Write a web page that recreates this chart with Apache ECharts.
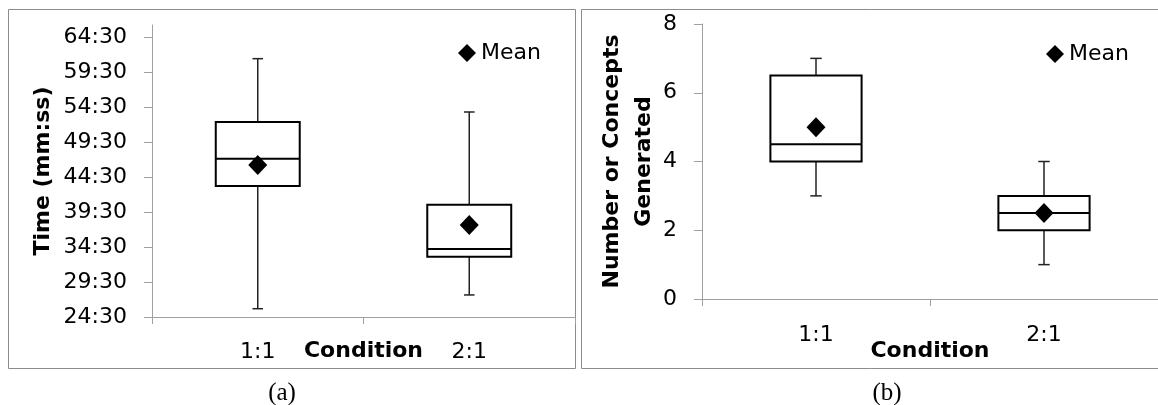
<!DOCTYPE html>
<html>
<head>
<meta charset="utf-8">
<script src="https://cdn.jsdelivr.net/npm/echarts@6/dist/echarts.min.js"></script>
<style>
html,body{margin:0;padding:0;background:#fff;}
#chart{width:1158px;height:405px;}
</style>
</head>
<body>
<div id="chart"></div>
<script>
// ---- data ----
const categories = ['1:1', '2:1'];
// (a) time, mm:ss
const timeMin    = ['25:41', '27:39'];
const timeQ1     = ['43:13', '33:07'];
const timeMedian = ['47:07', '34:13'];
const timeQ3     = ['52:21', '40:32'];
const timeMax    = ['61:24', '53:47'];
const timeMean   = ['46:13', '37:39'];
const timeTicks  = ['24:30', '29:30', '34:30', '39:30', '44:30', '49:30', '54:30', '59:30', '64:30'];
// (b) number of concepts
const conceptMin    = [3, 1];
const conceptQ1     = [4, 2];
const conceptMedian = [4.5, 2.5];
const conceptQ3     = [6.5, 3];
const conceptMax    = [7, 4];
const conceptMean   = [5, 2.5];
const conceptTicks  = [0, 2, 4, 6, 8];

// ---- helpers ----
function toMin(s) { const p = s.split(':'); return +p[0] + (+p[1]) / 60; }
function fmtMin(v) {
  let total = Math.round(v * 60);
  const m = Math.floor(total / 60), s = total % 60;
  return m + ':' + (s < 10 ? '0' : '') + s;
}
const FONT = 'DejaVu Sans';
const AX = '#a0a0a0';

function boxData(mins, q1s, meds, q3s, maxs, conv) {
  return categories.map((c, i) => [i, conv(mins[i]), conv(q1s[i]), conv(meds[i]), conv(q3s[i]), conv(maxs[i])]);
}
function boxRender(boxFrac, capFrac) {
  return function (params, api) {
    const i = api.value(0);
    const lo = api.coord([i, api.value(1)]);
    const q1 = api.coord([i, api.value(2)]);
    const md = api.coord([i, api.value(3)]);
    const q3 = api.coord([i, api.value(4)]);
    const hi = api.coord([i, api.value(5)]);
    const band = api.size([1, 0])[0];
    const bw = band * boxFrac, cw = band * capFrac;
    const cx = lo[0];
    const wStyle = { stroke: '#222', lineWidth: 1.5 };
    const bStyle = { stroke: '#000', lineWidth: 2, fill: 'none' };
    return {
      type: 'group',
      children: [
        { type: 'line', shape: { x1: cx, y1: hi[1], x2: cx, y2: q3[1] }, style: wStyle },
        { type: 'line', shape: { x1: cx, y1: q1[1], x2: cx, y2: lo[1] }, style: wStyle },
        { type: 'line', shape: { x1: cx - cw / 2, y1: hi[1], x2: cx + cw / 2, y2: hi[1] }, style: wStyle },
        { type: 'line', shape: { x1: cx - cw / 2, y1: lo[1], x2: cx + cw / 2, y2: lo[1] }, style: wStyle },
        { type: 'rect', shape: { x: cx - bw / 2, y: q3[1], width: bw, height: q1[1] - q3[1] }, style: bStyle },
        { type: 'line', shape: { x1: cx - bw / 2, y1: md[1], x2: cx + bw / 2, y2: md[1] }, style: { stroke: '#000', lineWidth: 2 } }
      ]
    };
  };
}

const ident = v => v;
const chart = echarts.init(document.getElementById('chart'), null, { renderer: 'canvas' });

const xAxisCommon = {
  type: 'category',
  data: categories,
  boundaryGap: true,
  axisLine: { lineStyle: { color: AX, width: 1 } },
  axisTick: { show: true, length: 7, lineStyle: { color: AX } },
  axisLabel: { color: '#000', fontFamily: FONT, fontSize: 22 },
  splitLine: { show: false },
  name: 'Condition',
  nameLocation: 'middle',
  nameMoveOverlap: false,
  nameTextStyle: { color: '#000', fontFamily: FONT, fontSize: 22, fontWeight: 'bold' }
};

const option = {
  animation: false,
  backgroundColor: '#fff',
  textStyle: { fontFamily: FONT },
  grid: [
    { left: 152, top: 25, width: 423, height: 292, containLabel: false },
    { left: 702, top: 24, width: 464, height: 275, containLabel: false }
  ],
  xAxis: [
    Object.assign({}, xAxisCommon, { gridIndex: 0, nameGap: 23, axisLabel: Object.assign({}, xAxisCommon.axisLabel, { margin: 24 }) }),
    Object.assign({}, xAxisCommon, { gridIndex: 1, nameGap: 41, axisLabel: Object.assign({}, xAxisCommon.axisLabel, { margin: 25 }) })
  ],
  yAxis: [
    {
      type: 'value', gridIndex: 0,
      min: toMin(timeTicks[0]), max: 66.21,
      axisLine: { show: true, lineStyle: { color: AX } },
      axisTick: { show: true, length: 8, lineStyle: { color: AX }, customValues: timeTicks.map(toMin) },
      axisLabel: { color: '#000', fontFamily: FONT, fontSize: 22, margin: 25, customValues: timeTicks.map(toMin), formatter: v => fmtMin(v) },
      splitLine: { show: false },
      name: 'Time (mm:ss)', nameLocation: 'middle', nameGap: 98, nameRotate: 90, nameMoveOverlap: false,
      nameTextStyle: { color: '#000', fontFamily: FONT, fontSize: 22, fontWeight: 'bold' }
    },
    {
      type: 'value', gridIndex: 1,
      min: conceptTicks[0], max: conceptTicks[conceptTicks.length - 1], interval: conceptTicks[1] - conceptTicks[0],
      axisLine: { show: true, lineStyle: { color: AX } },
      axisTick: { show: true, length: 8, lineStyle: { color: AX } },
      axisLabel: { color: '#000', fontFamily: FONT, fontSize: 22, margin: 25 },
      splitLine: { show: false },
      name: 'Number or Concepts\nGenerated', nameLocation: 'middle', nameGap: 42, nameRotate: 90, nameMoveOverlap: false,
      nameTextStyle: { color: '#000', fontFamily: FONT, fontSize: 22, fontWeight: 'bold', lineHeight: 32 }
    }
  ],
  legend: [
    {
      data: [{ name: 'Mean', icon: 'diamond' }], left: 458, top: 42, padding: 0,
      itemWidth: 18, itemHeight: 18, selectedMode: false,
      textStyle: { color: '#000', fontFamily: FONT, fontSize: 22 }
    },
    {
      data: [{ name: 'Mean', icon: 'diamond' }], left: 1046, top: 43, padding: 0,
      itemWidth: 18, itemHeight: 18, selectedMode: false,
      textStyle: { color: '#000', fontFamily: FONT, fontSize: 22 }
    }
  ],
  series: [
    {
      type: 'custom', xAxisIndex: 0, yAxisIndex: 0, name: 'Box',
      renderItem: boxRender(0.397, 0.05),
      encode: { x: 0, y: [1, 2, 3, 4, 5] },
      data: boxData(timeMin, timeQ1, timeMedian, timeQ3, timeMax, toMin), z: 2
    },
    {
      type: 'scatter', xAxisIndex: 0, yAxisIndex: 0, name: 'Mean',
      symbol: 'diamond', symbolSize: [19, 20], itemStyle: { color: '#000', opacity: 1 },
      data: timeMean.map((m, i) => [i, toMin(m)]), z: 3
    },
    {
      type: 'custom', xAxisIndex: 1, yAxisIndex: 1, name: 'Box2',
      renderItem: boxRender(0.40, 0.05),
      encode: { x: 0, y: [1, 2, 3, 4, 5] },
      data: boxData(conceptMin, conceptQ1, conceptMedian, conceptQ3, conceptMax, ident), z: 2
    },
    {
      type: 'scatter', xAxisIndex: 1, yAxisIndex: 1, name: 'Mean',
      symbol: 'diamond', symbolSize: [19, 20], itemStyle: { color: '#000', opacity: 1 },
      data: conceptMean.map((m, i) => [i, m]), z: 3
    }
  ],
  graphic: [
    { type: 'rect', shape: { x: 8.5, y: 9.5, width: 567, height: 359 }, style: { fill: 'none', stroke: '#8c8c8c', lineWidth: 1 }, silent: true },
    { type: 'rect', shape: { x: 581.5, y: 9.5, width: 600, height: 359 }, style: { fill: 'none', stroke: '#8c8c8c', lineWidth: 1 }, silent: true },
    { type: 'text', x: 282, y: 393, style: { text: '(a)', fontFamily: 'Liberation Serif', fontSize: 25, fill: '#000', textAlign: 'center', textVerticalAlign: 'middle' }, silent: true },
    { type: 'text', x: 887, y: 393, style: { text: '(b)', fontFamily: 'Liberation Serif', fontSize: 25, fill: '#000', textAlign: 'center', textVerticalAlign: 'middle' }, silent: true }
  ]
};
chart.setOption(option);
</script>
</body>
</html>
